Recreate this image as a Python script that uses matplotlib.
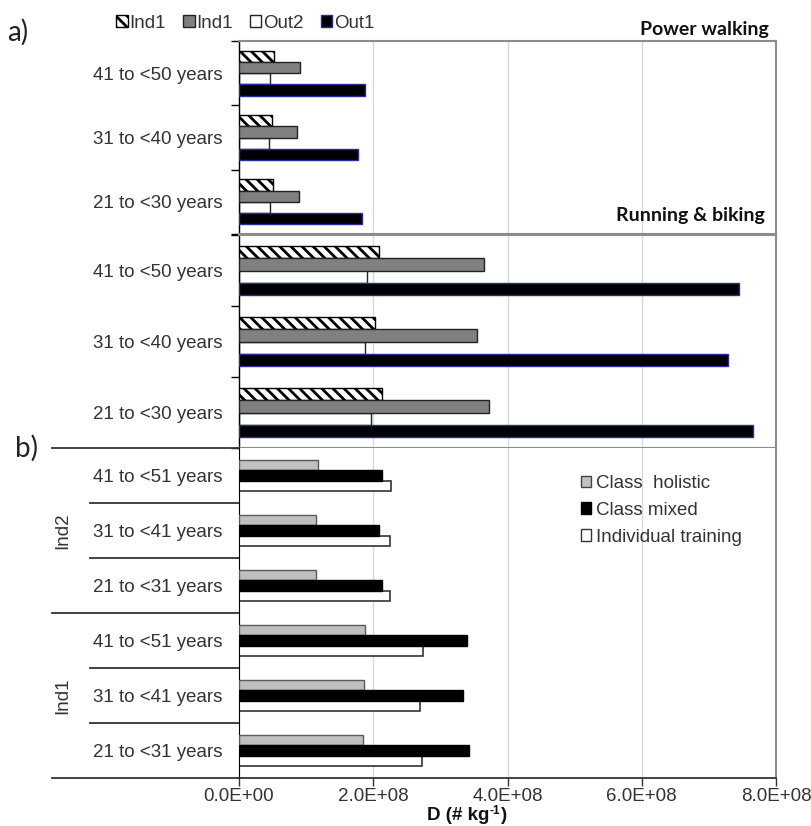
import matplotlib
matplotlib.use("Agg")
import matplotlib.pyplot as plt
import numpy as np
from matplotlib.patches import Patch
from matplotlib.ticker import FuncFormatter, FixedLocator
from matplotlib.transforms import blended_transform_factory

# ---- data (D in # per kg) ----
ages_top = ["21 to <30 years", "31 to <40 years", "41 to <50 years"]
pw_ind1_hatch = [0.51e8, 0.49e8, 0.52e8]
pw_ind1 = [0.90e8, 0.86e8, 0.91e8]
pw_out2 = [0.46e8, 0.45e8, 0.46e8]
pw_out1 = [1.83e8, 1.78e8, 1.87e8]

rb_ind1_hatch = [2.13e8, 2.03e8, 2.08e8]
rb_ind1 = [3.73e8, 3.54e8, 3.65e8]
rb_out2 = [1.97e8, 1.87e8, 1.91e8]
rb_out1 = [7.65e8, 7.28e8, 7.45e8]

ages_b = ["21 to <31 years", "31 to <41 years", "41 to <51 years"]
groups_b = ["Ind1", "Ind2"]
ind1_holistic = [1.84e8, 1.86e8, 1.88e8]
ind1_mixed = [3.42e8, 3.33e8, 3.40e8]
ind1_individual = [2.72e8, 2.70e8, 2.74e8]
ind2_holistic = [1.15e8, 1.15e8, 1.17e8]
ind2_mixed = [2.13e8, 2.09e8, 2.13e8]
ind2_individual = [2.25e8, 2.25e8, 2.26e8]

legend_top = ["Ind1", "Ind1", "Out2", "Out1"]
legend_b = ["Class  holistic", "Class mixed", "Individual training"]
x_ticks = [0, 2e8, 4e8, 6e8, 8e8]

# ---- style ----
plt.rcParams['font.family'] = ['Liberation Sans', 'DejaVu Sans']
plt.rcParams['hatch.linewidth'] = 2.0
TXT = '#333333'
FS = 13.5
GRID = '#d9d9d9'
FRAME = '#8c8c8c'
HATCH = '\\\\\\'
NAVY = '#2a2a9a'

W, H = 811, 826
fig = plt.figure(figsize=(W / 100, H / 100), dpi=100)


def rect(l, t, r, b):
    return [l / W, 1 - b / H, (r - l) / W, (b - t) / H]


ax_pw = fig.add_axes(rect(239, 41, 776, 234))
ax_rb = fig.add_axes(rect(239, 235, 776, 448))
ax_b = fig.add_axes(rect(239, 448, 776, 778))


def draw_top(ax, hatch_vals, ind1_vals, out2_vals, out1_vals):
    y = np.arange(len(ages_top))
    h = 0.175
    ax.barh(y + 1.5 * h, hatch_vals, h, facecolor='white', edgecolor='black',
            hatch=HATCH, lw=1, zorder=3)
    ax.barh(y + 0.5 * h, ind1_vals, h, color='#808080', edgecolor='#222222', lw=1, zorder=3)
    ax.barh(y - 0.5 * h, out2_vals, h, color='white', edgecolor='#222222', lw=1, zorder=2)
    ax.barh(y - 1.5 * h, out1_vals, h, color='black', edgecolor=NAVY, lw=1, zorder=3)
    ax.set_xlim(0, 8e8)
    ax.set_ylim(-0.5, len(ages_top) - 0.5)
    ax.set_xticks(x_ticks)
    ax.grid(axis='x', color=GRID, lw=1, zorder=0)
    ax.set_axisbelow(True)
    ax.tick_params(axis='x', length=0, labelbottom=False)
    ax.set_yticks(y)
    ax.set_yticklabels(ages_top, fontsize=FS, color=TXT)
    ax.yaxis.set_minor_locator(FixedLocator(np.arange(-0.5, len(ages_top), 1.0)))
    ax.tick_params(axis='y', which='major', length=0, pad=12)
    ax.tick_params(axis='y', which='minor', length=6, width=1, color='black', direction='out')
    for s in ('top', 'right', 'bottom'):
        ax.spines[s].set_color(FRAME)
        ax.spines[s].set_linewidth(1.5)
    ax.spines['left'].set_color('black')
    ax.spines['left'].set_linewidth(1)


draw_top(ax_pw, pw_ind1_hatch, pw_ind1, pw_out2, pw_out1)
draw_top(ax_rb, rb_ind1_hatch, rb_ind1, rb_out2, rb_out1)

# ---- panel b ----
holistic = ind1_holistic + ind2_holistic
mixed = ind1_mixed + ind2_mixed
individual = ind1_individual + ind2_individual
yb = np.arange(len(holistic))
hb = 0.19
ax_b.barh(yb + hb, holistic, hb, color='#c0c0c0', edgecolor='#5a5a5a', lw=1, zorder=3)
ax_b.barh(yb, mixed, hb, color='black', edgecolor='black', lw=1, zorder=3)
ax_b.barh(yb - hb, individual, hb, color='white', edgecolor='#333333', lw=1.2, zorder=2)
ax_b.set_xlim(0, 8e8)
ax_b.set_ylim(-0.5, len(holistic) - 0.5)
ax_b.set_xticks(x_ticks)
ax_b.xaxis.set_major_formatter(FuncFormatter(lambda v, p: f"{v:.1E}"))
ax_b.tick_params(axis='x', length=6, width=1, direction='out', color='#333333',
                 labelsize=FS, labelcolor=TXT, pad=1.5)
ax_b.grid(axis='x', color=GRID, lw=1, zorder=0)
ax_b.set_axisbelow(True)
ax_b.set_yticks(yb)
ax_b.set_yticklabels(ages_b * 2, fontsize=FS, color=TXT)
ax_b.tick_params(axis='y', length=0, pad=12)
ax_b.spines['top'].set_visible(False)
ax_b.spines['right'].set_color(FRAME)
ax_b.spines['right'].set_linewidth(1.5)
ax_b.spines['left'].set_color('black')
ax_b.spines['bottom'].set_color('#333333')
ax_b.spines['bottom'].set_linewidth(1.3)

# category and group divider lines to the left of the axis
trans = blended_transform_factory(ax_b.transAxes, ax_b.transData)
x_group = (52 - 239) / 537
x_cat = (90 - 239) / 537
for yy in np.arange(-0.5, len(holistic), 1.0):
    x0 = x_group if yy in (-0.5, 2.5, 5.5) else x_cat
    ax_b.plot([x0, 0], [yy, yy], color='#333333', lw=1.3, transform=trans, clip_on=False)
for i, g in enumerate(groups_b):
    ax_b.text((63 - 239) / 537, 1 + 3 * i, g, transform=trans, rotation=90,
              ha='center', va='center', fontsize=FS, color=TXT)

ax_b.legend(
    [Patch(facecolor='#c0c0c0', edgecolor='#444444'),
     Patch(facecolor='black', edgecolor='black'),
     Patch(facecolor='white', edgecolor='#333333')],
    legend_b, loc='upper left', bbox_to_anchor=(581 / W, 1 - 475 / H),
    bbox_transform=fig.transFigure, frameon=False, fontsize=FS,
    handlelength=0.55, handleheight=0.55, handletextpad=0.25,
    labelspacing=0.52, borderpad=0, borderaxespad=0, labelcolor=TXT)

fig.legend(
    [Patch(facecolor='white', edgecolor='black', hatch=HATCH),
     Patch(facecolor='#808080', edgecolor='#222222'),
     Patch(facecolor='white', edgecolor='#222222'),
     Patch(facecolor='black', edgecolor=NAVY)],
    legend_top, loc='upper left', bbox_to_anchor=(116 / W, 1 - 15 / H),
    frameon=False, fontsize=FS, ncol=4, handlelength=0.62, handleheight=0.62,
    handletextpad=0.1, columnspacing=0.9, borderpad=0, borderaxespad=0,
    labelcolor=TXT)

# panel titles and labels
fig.text(7 / W, 1 - 32 / H, 'a)', fontsize=20, family='Lato', va='center', color='#222222')
fig.text(15 / W, 1 - 448 / H, 'b)', fontsize=20, family='Lato', va='center', color='#222222')
fig.text(769 / W, 1 - 30 / H, 'Power walking', fontsize=14, family='Lato',
         weight='bold', ha='right', va='center', color='#111111')
fig.text(765 / W, 1 - 215 / H, 'Running & biking', fontsize=14, family='Lato',
         weight='bold', ha='right', va='center', color='#111111')
# axis label with a small raised exponent
fig.text(489 / W, 1 - 816 / H, 'D (# kg', fontsize=FS, weight='bold',
         ha='right', va='center', color='#111111')
fig.text(489 / W, 1 - 811 / H, '-1', fontsize=8.5, weight='bold',
         ha='left', va='center', color='#111111')
fig.text(501 / W, 1 - 816 / H, ')', fontsize=FS, weight='bold',
         ha='left', va='center', color='#111111')

fig.savefig('out.png', dpi=100)
